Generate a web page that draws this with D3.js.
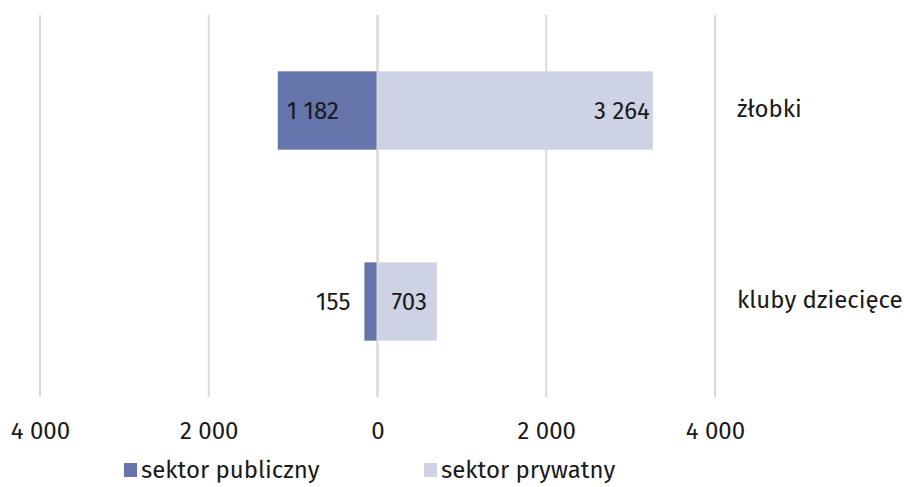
<!DOCTYPE html>
<html>
<head>
<meta charset="utf-8">
<script src="https://cdn.jsdelivr.net/npm/d3@7"></script>
<style>
  body { margin: 0; background: #fff; }
  text { font-family: "Fira Sans", Roboto, "Noto Sans", sans-serif; fill: #1a1a1a; }
</style>
</head>
<body>
<svg id="chart"></svg>
<script>
// data
const categories = ["żłobki", "kluby dziecięce"];
const publicValues = [1182, 155];
const privateValues = [3264, 703];
const seriesNames = ["sektor publiczny", "sektor prywatny"];
const tickValues = [-4000, -2000, 0, 2000, 4000];

const w = 904, h = 487;
const fs = 24;
const svg = d3.select("#chart").attr("width", w).attr("height", h);

const fmt = (v) => d3.format(",")(Math.abs(v)).replace(/,/g, " ");
const colors = ["#6574aa", "#cdd3e5"];

// scales
const x = d3.scaleLinear().domain([-4000, 4000]).range([40, 715]);
const y = d3.scaleBand().domain(categories).range([15, 397]).paddingInner(0.59).paddingOuter(0.295);

// gridlines
svg.append("g").selectAll("line")
  .data(tickValues)
  .join("line")
  .attr("x1", (d) => x(d)).attr("x2", (d) => x(d))
  .attr("y1", 15).attr("y2", 397)
  .attr("stroke", "#d9d9d9").attr("stroke-width", 2);

// x axis labels
const xAxis = d3.axisBottom(x).tickValues(tickValues).tickSize(0).tickFormat(fmt);
const xg = svg.append("g").attr("transform", "translate(0,419)").call(xAxis);
xg.select(".domain").remove();
xg.selectAll("text").attr("font-size", fs).style("font-family", null).attr("fill", "#1a1a1a");
xg.attr("font-family", null);

// bars
const rows = categories.map((c, i) => ({ cat: c, pub: publicValues[i], priv: privateValues[i] }));

svg.append("g").selectAll("rect")
  .data(rows)
  .join("rect")
  .attr("x", (d) => x(-d.pub))
  .attr("y", (d) => y(d.cat))
  .attr("width", (d) => x(0) - x(-d.pub))
  .attr("height", y.bandwidth())
  .attr("fill", colors[0]);

svg.append("g").selectAll("rect")
  .data(rows)
  .join("rect")
  .attr("x", x(0))
  .attr("y", (d) => y(d.cat))
  .attr("width", (d) => x(d.priv) - x(0))
  .attr("height", y.bandwidth())
  .attr("fill", colors[1]);

// zero line on top
svg.append("line")
  .attr("x1", x(0)).attr("x2", x(0))
  .attr("y1", 15).attr("y2", 397)
  .attr("stroke", "#d9d9d9").attr("stroke-width", 2);

// value labels
const labels = svg.append("g").attr("font-size", fs);
rows.forEach((d) => {
  const cy = y(d.cat) + y.bandwidth() / 2;
  const big = x(0) - x(-d.pub) > 60;
  labels.append("text")
    .attr("x", big ? x(-d.pub) + 9 : x(-d.pub) - 14)
    .attr("y", cy).attr("dy", "0.35em")
    .attr("text-anchor", big ? "start" : "end")
    .text(fmt(d.pub));
  const wide = x(d.priv) - x(0) > 200;
  labels.append("text")
    .attr("x", wide ? x(d.priv) - 3 : x(0) + 14)
    .attr("y", cy).attr("dy", "0.35em")
    .attr("text-anchor", wide ? "end" : "start")
    .text(fmt(d.priv));
});

// category labels on the right
svg.append("g").selectAll("text")
  .data(categories)
  .join("text")
  .attr("x", 737)
  .attr("y", (d) => y(d) + y.bandwidth() / 2 - 2)
  .attr("dy", "0.35em")
  .attr("font-size", fs)
  .text((d) => d);

// legend
const legendX = [124, 424];
const lg = svg.append("g").selectAll("g")
  .data(seriesNames)
  .join("g")
  .attr("transform", (d, i) => `translate(${legendX[i]},470)`);
lg.append("rect").attr("x", 0).attr("y", -7).attr("width", 13).attr("height", 14)
  .attr("fill", (d, i) => colors[i]);
lg.append("text").attr("x", 17).attr("dy", "0.35em").attr("font-size", fs).text((d) => d);
</script>
</body>
</html>
